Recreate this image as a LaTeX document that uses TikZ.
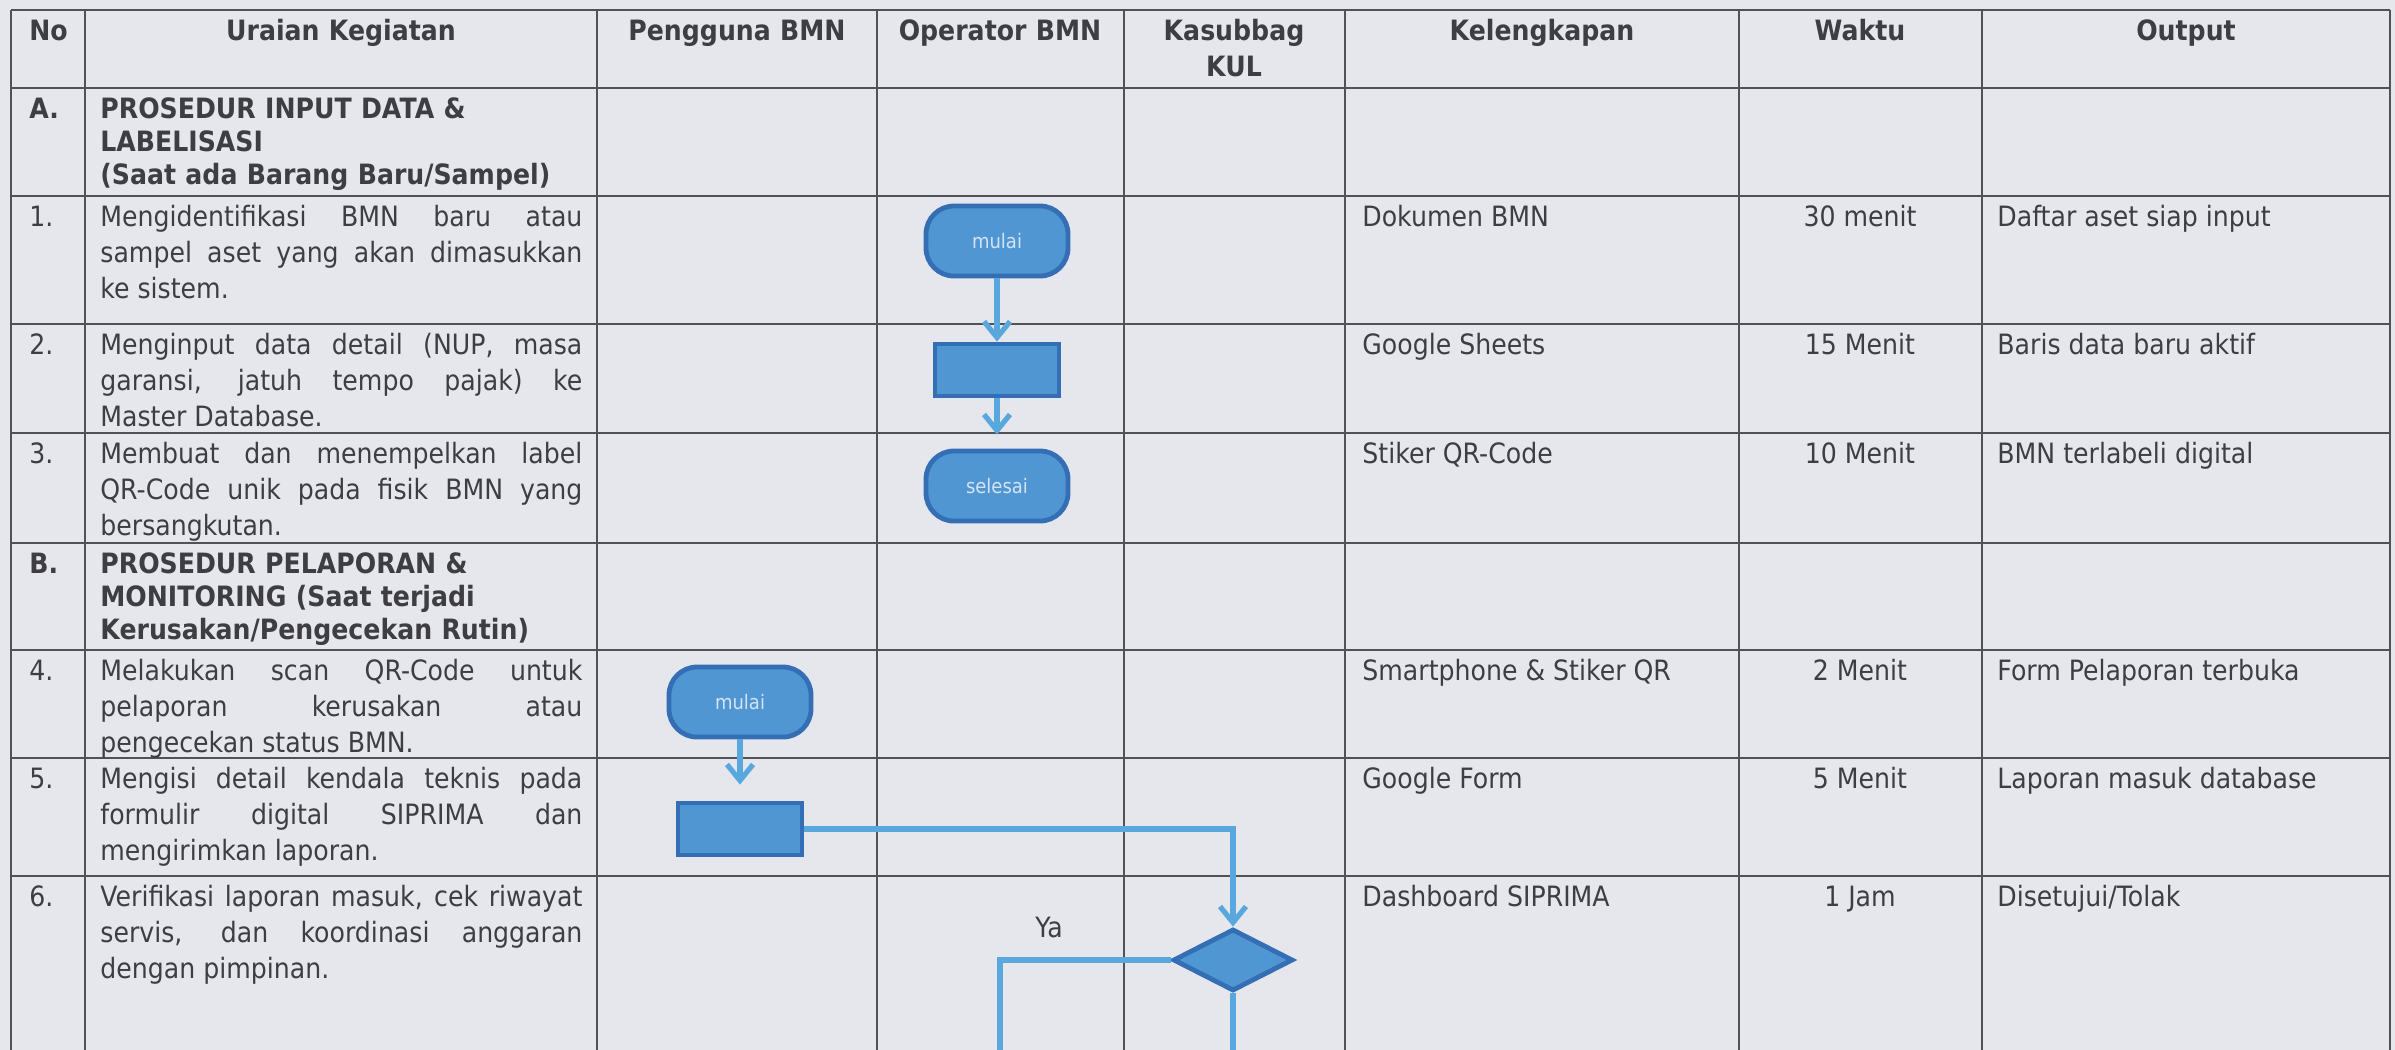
\documentclass[tikz,border=0pt]{standalone}
\usepackage{fontspec}
\setmainfont{DejaVu Sans}[FakeStretch=0.9]
\usetikzlibrary{shapes.geometric,arrows.meta}

\definecolor{paper}{RGB}{229,231,237}
\definecolor{gridc}{RGB}{82,82,86}
\definecolor{ink}{RGB}{62,62,66}
\definecolor{boxfill}{RGB}{80,150,210}
\definecolor{boxline}{RGB}{52,110,180}
\definecolor{flowc}{RGB}{88,168,222}
\definecolor{boxtxt}{RGB}{212,228,245}

\newcommand\tblfont{\fontsize{14}{18}\selectfont}
\newcommand\secfont{\fontsize{14}{16.5}\selectfont\bfseries}
\newcommand\boxfont{\fontsize{10}{12}\selectfont}

\tolerance=9999
\hyphenpenalty=10000

\tikzset{
  tblline/.style={draw=gridc,line width=1.1pt},
  cell/.style={font=\tblfont,text=ink,inner sep=0pt,anchor=base west},
  ctr/.style={cell,anchor=base},
  desc/.style={cell,text width=241pt,align=justify},
  head/.style={cell,font=\tblfont\bfseries,anchor=base,text width=130pt,align=center},
  sect/.style={cell,font=\secfont,text width=250pt,align=left},
  term/.style={draw=boxline,fill=boxfill,rounded corners=14pt,line width=2.4pt,
    minimum width=71pt,minimum height=35pt,inner sep=0pt,font=\boxfont,text=boxtxt},
  proc/.style={draw=boxline,fill=boxfill,line width=2.4pt,minimum width=62pt,minimum height=26pt,inner sep=0pt},
  dec/.style={diamond,draw=boxline,fill=boxfill,line width=2.4pt,minimum width=60pt,minimum height=31pt,inner sep=0pt},
  conn/.style={draw=flowc,line width=2.6pt},
  arr/.style={conn,-{Straight Barb[length=8pt,width=13pt]}},
}

\begin{document}
\begin{tikzpicture}[x=0.5pt,y=-0.5pt]
  \useasboundingbox (0,0) rectangle (2395,1050);
  \fill[paper] (0,0) rectangle (2395,1050);

  % table rules
  \foreach \y in {10,88,196,324,433,543,650,758,876}
    \draw[tblline] (11,\y) -- (2390,\y);
  \foreach \x in {11,85,597,877,1124,1345,1739,1982,2390}
    \draw[tblline] (\x,10) -- (\x,1050);

  % header
  \node[cell] (h1) at (29,40) {\bfseries No};
  \node[head] (h2) at (341,40) {Uraian Kegiatan};
  \node[head] (h3) at (737,40) {Pengguna BMN};
  \node[head] (h4) at (1000,40) {Operator BMN};
  \node[head] (h5) at (1234,40) {Kasubbag\\KUL};
  \node[head] (h6) at (1542,40) {Kelengkapan};
  \node[head] (h7) at (1860,40) {Waktu};
  \node[head] (h8) at (2186,40) {Output};

  % A
  \node[cell] (nA) at (29,118) {\bfseries A.};
  \node[sect] (sA) at (100,118) {PROSEDUR INPUT DATA \&\\LABELISASI\\(Saat ada Barang Baru/Sampel)};

  \node[cell] (n1) at (29,226) {1.};
  \node[desc] (u1) at (100,226) {Mengidentifikasi BMN baru atau\linebreak sampel aset yang akan dimasukkan\linebreak ke sistem.};
  \node[cell] (k1) at (1362,226) {Dokumen BMN};
  \node[ctr]  (w1) at (1860,226) {30 menit};
  \node[cell] (o1) at (1997,226) {Daftar aset siap input};

  \node[cell] (n2) at (29,354) {2.};
  \node[desc] (u2) at (100,354) {Menginput data detail (NUP, masa\linebreak garansi, jatuh tempo pajak) ke\linebreak Master Database.};
  \node[cell] (k2) at (1362,354) {Google Sheets};
  \node[ctr]  (w2) at (1860,354) {15 Menit};
  \node[cell] (o2) at (1997,354) {Baris data baru aktif};

  \node[cell] (n3) at (29,463) {3.};
  \node[desc] (u3) at (100,463) {Membuat dan menempelkan label\linebreak QR-Code unik pada fisik BMN yang\linebreak bersangkutan.};
  \node[cell] (k3) at (1362,463) {Stiker QR-Code};
  \node[ctr]  (w3) at (1860,463) {10 Menit};
  \node[cell] (o3) at (1997,463) {BMN terlabeli digital};

  % B
  \node[cell] (nB) at (29,573) {\bfseries B.};
  \node[sect] (sB) at (100,573) {PROSEDUR PELAPORAN \&\\MONITORING (Saat terjadi\\Kerusakan/Pengecekan Rutin)};

  \node[cell] (n4) at (29,680) {4.};
  \node[desc] (u4) at (100,680) {Melakukan scan QR-Code untuk\linebreak pelaporan kerusakan atau\linebreak pengecekan status BMN.};
  \node[cell] (k4) at (1362,680) {Smartphone \& Stiker QR};
  \node[ctr]  (w4) at (1860,680) {2 Menit};
  \node[cell] (o4) at (1997,680) {Form Pelaporan terbuka};

  \node[cell] (n5) at (29,788) {5.};
  \node[desc] (u5) at (100,788) {Mengisi detail kendala teknis pada\linebreak formulir digital SIPRIMA dan\linebreak mengirimkan laporan.};
  \node[cell] (k5) at (1362,788) {Google Form};
  \node[ctr]  (w5) at (1860,788) {5 Menit};
  \node[cell] (o5) at (1997,788) {Laporan masuk database};

  \node[cell] (n6) at (29,906) {6.};
  \node[desc] (u6) at (100,906) {Verifikasi laporan masuk, cek riwayat\linebreak servis, dan koordinasi anggaran\linebreak dengan pimpinan.};
  \node[cell] (k6) at (1362,906) {Dashboard SIPRIMA};
  \node[ctr]  (w6) at (1860,906) {1 Jam};
  \node[cell] (o6) at (1997,906) {Disetujui/Tolak};

  % flow A
  \node[term] (m1) at (997,241) {mulai};
  \node[proc] (p1) at (997,370) {};
  \node[term] (s1) at (997,486) {selesai};

  % flow B
  \node[term] (m2) at (740,702) {mulai};
  \node[proc] (p2) at (740,829) {};
  \node[dec]  (d2) at (1233,960) {};
  \node[ctr]  (ya) at (1049,937) {Ya};
  \coordinate (e1) at (1000,1050);
  \coordinate (e2) at (1233,1050);

  \draw[arr] (m1) -- (p1);
  \draw[arr,shorten >=7pt] (p1) -- (s1);
  \draw[arr,shorten >=8pt] (m2) -- (p2);
  \draw[arr] (p2) -| (d2);
  \draw[conn] (d2) -| (e1);
  \draw[conn] (d2) -- (e2);
\end{tikzpicture}
\end{document}
